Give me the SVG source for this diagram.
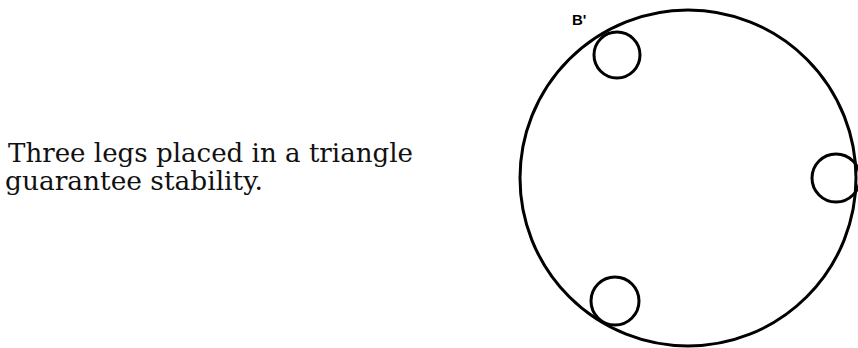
<svg xmlns="http://www.w3.org/2000/svg" width="858" height="348" viewBox="0 0 858 348">
  <style>
    .ring { fill: none; stroke: #000; stroke-width: 3; }
    .leg { fill: none; stroke: #000; stroke-width: 3; }
    .caption { font-family: "DejaVu Serif", "Liberation Serif", serif; font-size: 26px; fill: #111; }
    .label { font-family: "Liberation Sans", "DejaVu Sans", sans-serif; font-size: 15px; font-weight: bold; fill: #000; }
  </style>
  <rect width="858" height="348" fill="#fff"/>
  <g id="caption">
    <text class="caption" x="8" y="162" textLength="405" lengthAdjust="spacingAndGlyphs">Three legs placed in a triangle</text>
    <text class="caption" x="5" y="190" textLength="258" lengthAdjust="spacingAndGlyphs">guarantee stability.</text>
  </g>
  <g id="base">
    <ellipse class="ring" cx="688" cy="178" rx="168" ry="168"/>
  </g>
  <g id="leg-top">
    <circle class="leg" cx="617" cy="55" r="23"/>
  </g>
  <g id="leg-right">
    <circle class="leg" cx="836" cy="178" r="24"/>
  </g>
  <g id="leg-bottom">
    <circle class="leg" cx="615" cy="301" r="24"/>
  </g>
  <g id="label-b">
    <text class="label" x="572" y="25">B'</text>
  </g>
</svg>
